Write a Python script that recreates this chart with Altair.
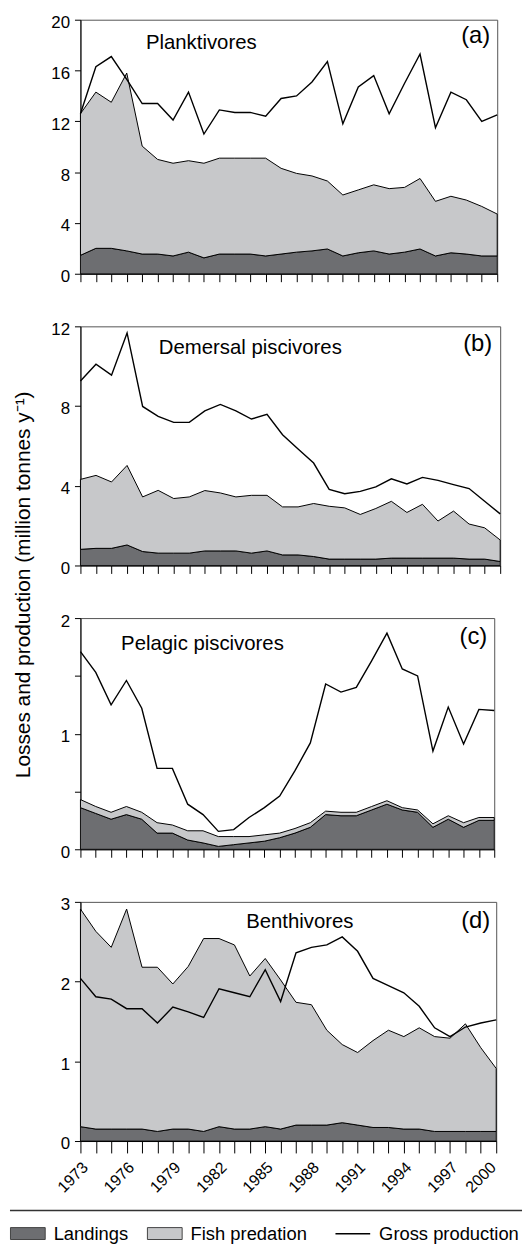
import altair as alt
import pandas as pd

years = list(range(1973, 2001))
label_years = [1973, 1976, 1979, 1982, 1985, 1988, 1991, 1994, 1997, 2000]

# (a) Planktivores
plank_landings = [1.45, 2.0, 2.0, 1.8, 1.55, 1.55, 1.4, 1.7, 1.25, 1.55, 1.55, 1.55, 1.4, 1.55,
                  1.7, 1.8, 1.95, 1.4, 1.65, 1.8, 1.55, 1.7, 1.95, 1.4, 1.65, 1.55, 1.4, 1.4]
plank_losses = [12.6, 14.3, 13.5, 15.8, 10.05, 9.0, 8.7, 8.9, 8.7, 9.1, 9.1, 9.1, 9.1, 8.3,
                7.9, 7.7, 7.3, 6.2, 6.6, 7.0, 6.7, 6.8, 7.5, 5.7, 6.1, 5.8, 5.3, 4.7]
plank_production = [12.6, 16.3, 17.1, 15.3, 13.4, 13.4, 12.1, 14.3, 11.0, 12.9, 12.7, 12.7, 12.4, 13.8,
                    14.0, 15.1, 16.7, 11.8, 14.7, 15.6, 12.6, 15.0, 17.3, 11.5, 14.3, 13.7, 12.0, 12.5]

# (b) Demersal piscivores
dem_landings = [0.81, 0.86, 0.86, 1.03, 0.70, 0.62, 0.62, 0.62, 0.73, 0.73, 0.73, 0.62, 0.73, 0.53,
                0.53, 0.45, 0.32, 0.32, 0.32, 0.32, 0.37, 0.37, 0.37, 0.37, 0.37, 0.32, 0.32, 0.2]
dem_losses = [4.32, 4.52, 4.19, 5.02, 3.44, 3.77, 3.36, 3.44, 3.76, 3.64, 3.44, 3.52, 3.52, 2.94,
              2.94, 3.11, 2.97, 2.89, 2.56, 2.86, 3.22, 2.66, 3.07, 2.23, 2.73, 2.08, 1.89, 1.28]
dem_production = [9.26, 10.1, 9.55, 11.67, 7.98, 7.48, 7.18, 7.18, 7.76, 8.08, 7.76, 7.35, 7.58, 6.56,
                  5.85, 5.14, 3.82, 3.6, 3.72, 3.94, 4.35, 4.09, 4.42, 4.27, 4.06, 3.86, 3.22, 2.59]

# (c) Pelagic piscivores
pel_landings = [0.36, 0.31, 0.26, 0.30, 0.26, 0.14, 0.14, 0.08, 0.055, 0.025, 0.04, 0.055, 0.07, 0.10,
                0.14, 0.19, 0.30, 0.29, 0.29, 0.34, 0.39, 0.34, 0.32, 0.19, 0.26, 0.19, 0.25, 0.25]
pel_losses = [0.43, 0.37, 0.32, 0.37, 0.32, 0.23, 0.21, 0.16, 0.16, 0.11, 0.11, 0.11, 0.125, 0.14,
              0.18, 0.23, 0.33, 0.32, 0.32, 0.37, 0.42, 0.36, 0.34, 0.22, 0.29, 0.23, 0.275, 0.275]
pel_production = [1.71, 1.53, 1.25, 1.46, 1.22, 0.70, 0.70, 0.39, 0.30, 0.155, 0.17, 0.275, 0.36, 0.46,
                  0.68, 0.92, 1.43, 1.36, 1.40, 1.63, 1.87, 1.56, 1.50, 0.85, 1.23, 0.91, 1.21, 1.20]

# (d) Benthivores
ben_landings = [0.18, 0.15, 0.15, 0.15, 0.15, 0.12, 0.15, 0.15, 0.12, 0.18, 0.15, 0.15, 0.18, 0.15,
                0.20, 0.20, 0.20, 0.23, 0.20, 0.17, 0.17, 0.15, 0.15, 0.12, 0.12, 0.12, 0.12, 0.12]
ben_losses = [2.91, 2.63, 2.43, 2.91, 2.18, 2.18, 1.97, 2.19, 2.54, 2.54, 2.46, 2.07, 2.29, 2.02,
              1.74, 1.71, 1.39, 1.21, 1.11, 1.26, 1.39, 1.31, 1.42, 1.31, 1.29, 1.47, 1.17, 0.91]
ben_production = [2.04, 1.81, 1.78, 1.66, 1.66, 1.48, 1.68, 1.62, 1.55, 1.91, 1.86, 1.81, 2.15, 1.75,
                  2.36, 2.43, 2.46, 2.56, 2.38, 2.04, 1.95, 1.86, 1.69, 1.42, 1.31, 1.43, 1.48, 1.52]

series_names = ["Landings", "Fish predation", "Gross production"]

DARK = "#6d6e71"
LIGHT = "#c7c8ca"
FONT = "Liberation Sans"

fill_scale = alt.Scale(domain=series_names[:2], range=[DARK, LIGHT])
stroke_scale = alt.Scale(domain=series_names[2:], range=["black"])

fill_legend = alt.Legend(
    title=None, orient="none", legendX=-71, legendY=1205, direction="horizontal",
    symbolType="M-1,-0.343H1V0.343H-1Z", symbolSize=1225, symbolStrokeColor="#444",
    symbolStrokeWidth=1, symbolOpacity=1, labelFontSize=18.5, labelColor="black", labelFont=FONT,
    labelOffset=8, columnPadding=16,
)
stroke_legend = alt.Legend(
    title=None, orient="none", legendX=256, legendY=1205, symbolType="stroke",
    symbolSize=1225, symbolStrokeWidth=1.6, labelFontSize=18.5, labelColor="black",
    labelFont=FONT, labelOffset=8,
)

dummy = pd.DataFrame({"k": [0]})


def panel(land, losses, prod, ymax, yvalues, width, height, name, name_xy, letter, letter_xy,
          last=False, ytitle=None):
    df = pd.DataFrame({"year": years, "landings": land, "losses": losses, "production": prod,
                       "s_land": series_names[0], "s_pred": series_names[1], "s_prod": series_names[2]})
    if last:
        xaxis = alt.Axis(values=years, tickSize=12, labelAngle=-45, labelFontSize=16,
                         labelAlign="right", labelBaseline="top", labelPadding=6,
                         labelOffset={"condition": {"test": "datum.value == 2000", "value": -9},
                                      "value": -1},
                         labelOverlap=False, labelBound=False,
                         labelExpr="indexof(" + str(label_years) + ", datum.value) >= 0 ? '' + datum.value : ''",
                         title=None)
    else:
        xaxis = alt.Axis(values=years, tickSize=8, labels=False, title=None)
    x = alt.X("year:Q", scale=alt.Scale(domain=[1973, 2000], nice=False, zero=False), axis=xaxis)
    yaxis_kw = dict(values=yvalues, tickSize=6, labelPadding=5, labelOffset=3, labelFontSize=17,
                    labelOverlap=False,
                    labelExpr="datum.value % 1 == 0 ? '' + datum.value : ''")
    if ytitle:
        yaxis_kw.update(title=ytitle, titleX=-57, titleY=260, titleAngle=-90, titleAlign="center",
                        titleBaseline="middle", titleFontSize=21, titleFontWeight="normal")
    else:
        yaxis_kw.update(title=None)
    yscale = alt.Scale(domain=[0, ymax], nice=False)
    base = alt.Chart(df)
    land_area = base.mark_area(stroke="black", strokeWidth=0.8, opacity=1).encode(
        x=x,
        y=alt.Y("landings:Q", scale=yscale, axis=alt.Axis(**yaxis_kw), stack=None),
        fill=alt.Fill("s_land:N", scale=fill_scale, legend=fill_legend),
    )
    pred_area = base.mark_area(stroke="black", strokeWidth=1, opacity=1).encode(
        x=x,
        y=alt.Y("losses:Q", scale=yscale),
        y2="landings:Q",
        fill=alt.Fill("s_pred:N", scale=fill_scale, legend=fill_legend),
    )
    prod_line = base.mark_line(strokeWidth=1.4).encode(
        x=x,
        y=alt.Y("production:Q", scale=yscale),
        stroke=alt.Stroke("s_prod:N", scale=stroke_scale, legend=stroke_legend),
    )
    name_txt = alt.Chart(dummy).mark_text(text=name, align="left", baseline="middle",
                                          fontSize=20.5, font=FONT, color="black").encode(
        x=alt.value(name_xy[0]), y=alt.value(name_xy[1]))
    letter_txt = alt.Chart(dummy).mark_text(text=letter, align="right", baseline="middle",
                                            fontSize=24, font=FONT, color="black").encode(
        x=alt.value(letter_xy[0]), y=alt.value(letter_xy[1]))
    layers = [land_area, pred_area, prod_line, name_txt, letter_txt]
    if last:
        sep = alt.Chart(dummy).mark_rule(color="#333", strokeWidth=1.5).encode(
            x=alt.value(-71), x2=alt.value(445), y=alt.value(311))
        layers.append(sep)
    return alt.layer(*layers).properties(width=width, height=height)


pa = panel(plank_landings, plank_losses, plank_production, 20, [0, 4, 8, 12, 16, 20], 420, 256,
           "Planktivores", (66, 24), "(a)", (413, 16))
pb = panel(dem_landings, dem_losses, dem_production, 12, [0, 4, 8, 12], 423, 241,
           "Demersal piscivores", (79, 22), "(b)", (415, 18),
           ytitle="Losses and production (million tonnes y\u207b\u00b9)")
pc = panel(pel_landings, pel_losses, pel_production, 2, [0, 0.5, 1, 1.5, 2], 417, 233,
           "Pelagic piscivores", (41, 26), "(c)", (410, 19))
pd_ = panel(ben_landings, ben_losses, ben_production, 3, [0, 1, 2, 3], 419, 241,
            "Benthivores", (167, 20), "(d)", (413, 19), last=True)

chart = alt.vconcat(pa, pb, pc, pd_, spacing=53, bounds="flush", padding=0).configure(
    font=FONT
).configure_view(
    stroke="#555", strokeWidth=1
).configure_axis(
    grid=False, domainColor="black", tickColor="black", labelColor="black", labelFont=FONT,
    titleFont=FONT, titleColor="black", domainWidth=1, tickWidth=1,
)

chart.save("out.html", embed_options={"renderer": "svg", "actions": False})
